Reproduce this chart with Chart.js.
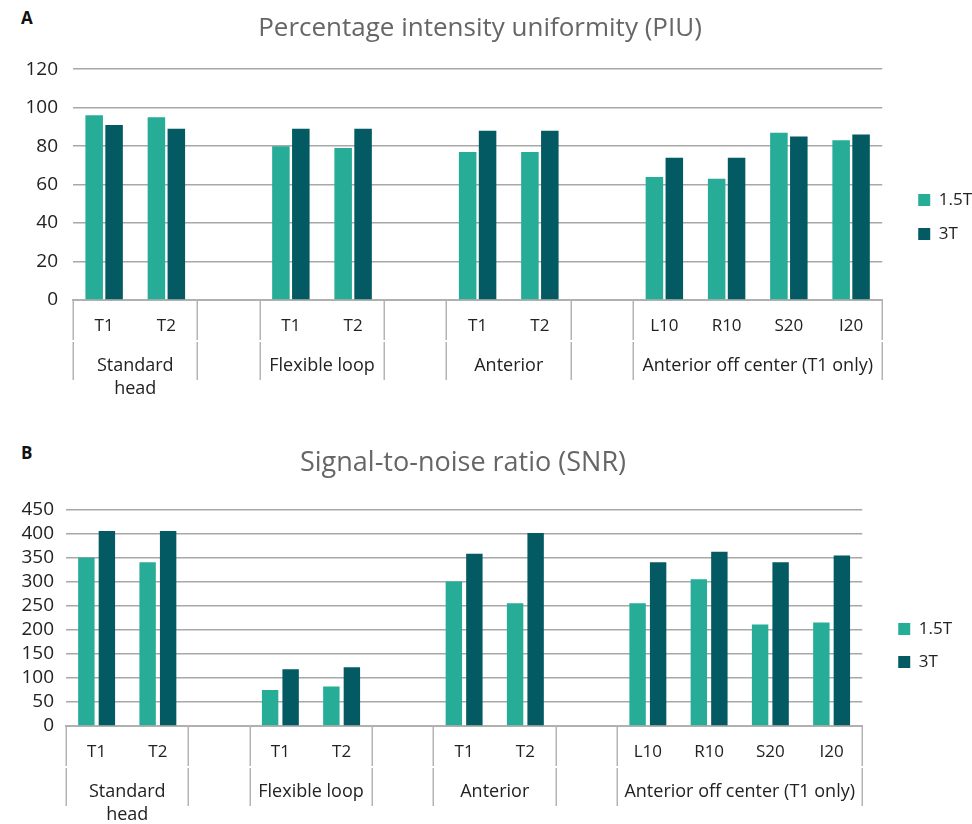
<!DOCTYPE html>
<html>
<head>
<meta charset="utf-8">
<script src="https://cdn.jsdelivr.net/npm/chart.js@4.4.1/dist/chart.umd.min.js"></script>
<style>
  html, body { margin: 0; padding: 0; background: #ffffff; overflow: hidden; width: 972px; height: 824px; position: relative; }
  .panel { position: absolute; font-family: "Open Sans", sans-serif; font-weight: bold; font-size: 17px; color: #111; }
  canvas { position: absolute; }
</style>
</head>
<body>
<div class="panel" style="left:21px; top:6px;">A</div>
<div class="panel" style="left:21px; top:441px;">B</div>
<canvas id="chartA" width="1004" height="434" style="left:-22px; top:0px;"></canvas>
<canvas id="chartB" width="998" height="431" style="left:-36px; top:430px;"></canvas>
<script>
// ---- data ----
const subLabels = ['T1', 'T2', '', 'T1', 'T2', '', 'T1', 'T2', '', 'L10', 'R10', 'S20', 'I20'];
const groupNames = ['Standard head', 'Flexible loop', 'Anterior', 'Anterior off center (T1 only)'];
const seriesNames = ['1.5T', '3T'];
const piu15 = [96, 95, null, 80, 79, null, 77, 77, null, 64, 63, 87, 83];
const piu3  = [91, 89, null, 89, 89, null, 88, 88, null, 74, 74, 85, 86];
const snr15 = [350, 340, null, 75, 82, null, 300, 255, null, 255, 305, 211, 215];
const snr3  = [405, 405, null, 118, 122, null, 358, 401, null, 340, 362, 340, 354];
const piuTicks = [0, 20, 40, 60, 80, 100, 120];
const snrTicks = [0, 50, 100, 150, 200, 250, 300, 350, 400, 450];

const COL15 = '#27AC98';
const COL3 = '#035A63';
const GRID = '#a8a8a8';
const TXT = '#222222';
const FONT = '"Open Sans", sans-serif';

// groups derived from sub-labels: consecutive non-empty labels form a group
function buildGroups(labels, names) {
  const groups = [];
  let start = null;
  for (let i = 0; i <= labels.length; i++) {
    const filled = i < labels.length && labels[i] !== '';
    if (filled && start === null) start = i;
    if (!filled && start !== null) { groups.push({ from: start, to: i }); start = null; }
  }
  groups.forEach((g, k) => g.name = names[k]);
  return groups;
}

const groupPlugin = {
  id: 'groupAxis',
  afterDraw(chart) {
    const x = chart.scales.x;
    const ctx = chart.ctx;
    const groups = buildGroups(subLabels, groupNames);
    const top = x.top;
    const b = (i) => x.getPixelForValue(i - 0.5);
    const bounds = new Set();
    groups.forEach(g => { bounds.add(g.from); bounds.add(g.to); });
    ctx.save();
    ctx.strokeStyle = '#b4b4b4';
    ctx.lineWidth = 1.5;
    bounds.forEach(i => {
      const px = Math.round(b(i)) + 0.25;
      ctx.beginPath();
      ctx.moveTo(px, top); ctx.lineTo(px, top + 40);
      ctx.moveTo(px, top + 42); ctx.lineTo(px, top + 80);
      ctx.stroke();
    });
    ctx.fillStyle = TXT;
    ctx.font = '18px ' + FONT;
    ctx.textAlign = 'center';
    ctx.textBaseline = 'middle';
    groups.forEach(g => {
      const l = b(g.from), r = b(g.to);
      const cx = (l + r) / 2;
      const avail = r - l - 6;
      let lines = [g.name];
      if (ctx.measureText(g.name).width > avail) {
        const words = g.name.split(' ');
        lines = [];
        let cur = '';
        words.forEach(w => {
          const t = cur ? cur + ' ' + w : w;
          if (ctx.measureText(t).width > avail && cur) { lines.push(cur); cur = w; } else cur = t;
        });
        lines.push(cur);
      }
      lines.forEach((ln, k) => ctx.fillText(ln, cx, top + 66 + k * 23));
    });
    ctx.restore();
  }
};

function makeChart(id, cfg) {
  return new Chart(document.getElementById(id), {
    type: 'bar',
    data: {
      labels: subLabels,
      datasets: [
        { label: seriesNames[0], data: cfg.d15, backgroundColor: COL15, categoryPercentage: cfg.cat, barPercentage: cfg.bar },
        { label: seriesNames[1], data: cfg.d3, backgroundColor: COL3, categoryPercentage: cfg.cat, barPercentage: cfg.bar }
      ]
    },
    options: {
      responsive: false,
      devicePixelRatio: 1,
      animation: false,
      layout: { padding: 0 },
      plugins: {
        title: {
          display: true,
          text: cfg.title,
          color: '#666666',
          font: { family: FONT, size: cfg.titleSize, weight: 'normal' },
          padding: { top: cfg.titleTop, bottom: cfg.titleBottom }
        },
        legend: {
          position: 'right',
          labels: {
            boxWidth: 12, boxHeight: 12, padding: cfg.legPad,
            color: TXT, font: { family: FONT, size: 17 }
          }
        },
        tooltip: { enabled: false }
      },
      scales: {
        x: {
          grid: { display: false, drawTicks: false },
          border: { display: true, color: '#b0b0b0', width: 2 },
          ticks: { color: TXT, font: { family: FONT, size: 17 }, padding: 16, autoSkip: false, maxRotation: 0 },
          afterFit: s => { s.height = cfg.xHeight; }
        },
        y: {
          min: 0, max: cfg.yMax,
          afterBuildTicks: s => { s.ticks = cfg.ticks.map(v => ({ value: v })); },
          grid: { color: GRID, lineWidth: 1.5, drawTicks: false },
          border: { display: false },
          ticks: { color: TXT, font: { family: FONT, size: 19 }, padding: cfg.yPad, autoSkip: false },
          afterFit: s => { s.width = cfg.yWidth; }
        },
        ySpacer: {
          axis: 'y', type: 'linear', position: 'right', display: true,
          grid: { display: false, drawTicks: false }, border: { display: false },
          ticks: { display: false },
          afterFit: s => { s.width = cfg.spacer; }
        }
      }
    },
    plugins: [groupPlugin]
  });
}

makeChart('chartA', {
  title: 'Percentage intensity uniformity (PIU)', d15: piu15, d3: piu3,
  yMax: 120, ticks: piuTicks, cat: 0.64, bar: 0.88, titleSize: 26,
  titleTop: 13, titleBottom: 25, xHeight: 134, yWidth: 95, yPad: 15, spacer: 19, legPad: 17
});
makeChart('chartB', {
  title: 'Signal-to-noise ratio (SNR)', d15: snr15, d3: snr3,
  yMax: 450, ticks: snrTicks, cat: 0.67, bar: 0.8, titleSize: 27,
  titleTop: 17, titleBottom: 30, xHeight: 135, yWidth: 102, yPad: 12, spacer: 20, legPad: 16
});
</script>
</body>
</html>
